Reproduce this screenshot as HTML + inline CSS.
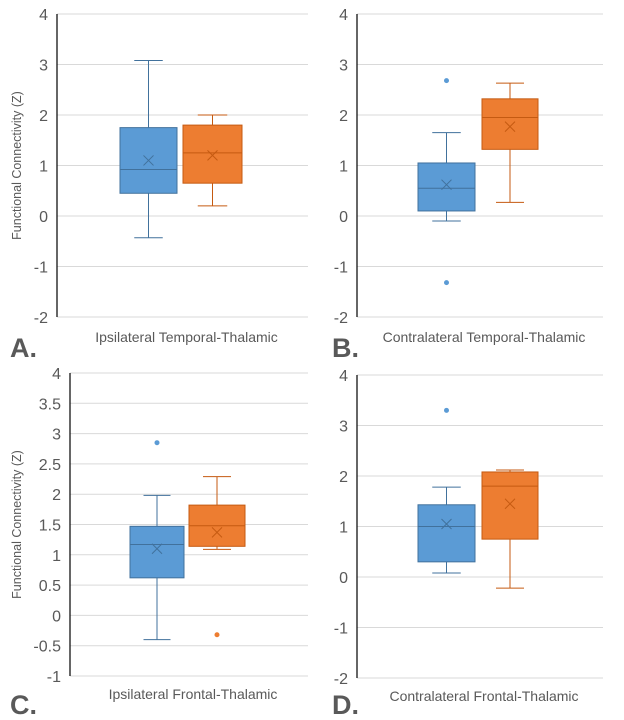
<!DOCTYPE html>
<html><head><meta charset="utf-8"><style>
body{margin:0;background:#fff;width:624px;height:720px;overflow:hidden;font-family:"Liberation Sans",sans-serif}
svg{display:block}
</style></head><body>
<svg id="c" width="624" height="720"></svg>
<script>
const categories=["Ipsilateral Temporal-Thalamic","Contralateral Temporal-Thalamic","Ipsilateral Frontal-Thalamic","Contralateral Frontal-Thalamic"];
const panelLetters=["A.","B.","C.","D."];
const ticksTop=[4,3,2,1,0,-1,-2];
const ticksC=[4,3.5,3,2.5,2,1.5,1,0.5,0,-0.5,-1];
// per panel: [min, q1, median, q3, max, mean]
const blueStats=[[-0.43,0.45,0.92,1.75,3.08,1.1],[-0.1,0.1,0.55,1.05,1.65,0.62],[-0.4,0.62,1.17,1.47,1.98,1.1],[0.08,0.3,1.0,1.43,1.78,1.05]];
const orangeStats=[[0.2,0.65,1.25,1.8,2.0,1.2],[0.27,1.32,1.95,2.32,2.63,1.77],[1.09,1.14,1.48,1.82,2.29,1.37],[-0.22,0.75,1.8,2.08,2.12,1.45]];
const blueOutliers=[[],[2.68,-1.32],[2.85],[3.3]];
const orangeOutliers=[[],[],[-0.32],[]];

const svg=document.getElementById('c');const NS='http://www.w3.org/2000/svg';
function mk(t,a,p){const e=document.createElementNS(NS,t);for(const k in a)e.setAttribute(k,a[k]);(p||svg).appendChild(e);return e;}
const panels=[
 {ax:57,right:308,top:14,bot:317,ticks:ticksTop,bx:[120,177],ox:[183,242],lab:336,lx:10,ly:357},
 {ax:357,right:603,top:14,bot:317,ticks:ticksTop,bx:[418,475],ox:[482,538],lab:336,lx:332,ly:357},
 {ax:70,right:308,top:373,bot:676,ticks:ticksC,bx:[130,184],ox:[189,245],lab:693,lx:10,ly:714},
 {ax:357,right:603,top:375,bot:678,ticks:ticksTop,bx:[418,475],ox:[482,538],lab:695,lx:332,ly:714}];
panels.forEach((p,i)=>{
 const g=mk('g',{});
 const mx=p.ticks[0],mn=p.ticks[p.ticks.length-1];
 const y=v=>p.top+(mx-v)/(mx-mn)*(p.bot-p.top);
 p.ticks.forEach(t=>{
  const l=mk('line',{x1:p.ax,x2:p.right,y1:y(t),y2:y(t),stroke:'#d9d9d9','stroke-width':1},g);
  
  const tx=mk('text',{x:p.ax-9,y:y(t)+6,'text-anchor':'end','font-size':16,fill:'#595959'},g);tx.textContent=t;
  
 });
 const a=mk('line',{x1:p.ax,x2:p.ax,y1:p.top,y2:p.bot,stroke:'#000','stroke-width':1.2},g);
 
 function box(s,xr,fill,stroke,outs,nm){
  const c=(xr[0]+xr[1])/2,w=xr[1]-xr[0];
  const b=mk('g',{},g);
  mk('line',{x1:c,x2:c,y1:y(s[0]),y2:y(s[1]),stroke:stroke},b);
  mk('line',{x1:c,x2:c,y1:y(s[3]),y2:y(s[4]),stroke:stroke},b);
  mk('line',{x1:c-w/4,x2:c+w/4,y1:y(s[0]),y2:y(s[0]),stroke:stroke},b);
  mk('line',{x1:c-w/4,x2:c+w/4,y1:y(s[4]),y2:y(s[4]),stroke:stroke},b);
  mk('rect',{x:xr[0],y:y(s[3]),width:w,height:y(s[1])-y(s[3]),fill:fill,stroke:stroke},b);
  mk('line',{x1:xr[0],x2:xr[1],y1:y(s[2]),y2:y(s[2]),stroke:stroke},b);
  const my=y(s[5]);
  mk('path',{d:`M${c-5},${my-5}L${c+5},${my+5}M${c-5},${my+5}L${c+5},${my-5}`,stroke:stroke,'stroke-width':1},b);
  outs.forEach(o=>{const d=mk('circle',{cx:c,cy:y(o),r:2.5,fill:fill},b);});
 }
 box(blueStats[i],p.bx,'#5b9bd5','#41719c',blueOutliers[i],'blue-box');
 box(orangeStats[i],p.ox,'#ed7d31','#c55a11',orangeOutliers[i],'orange-box');
 const xl=mk('text',{x:(p.ax+p.right)/2+4,y:p.lab+6,'text-anchor':'middle','font-size':14,fill:'#595959'},g);xl.textContent=categories[i];
 
 const L=mk('text',{x:p.lx,y:p.ly,'font-size':27,'font-weight':'bold',fill:'#595959'},g);L.textContent=panelLetters[i];
 
 if(i%2==0){const yt=mk('text',{x:0,y:0,transform:`translate(21,${(p.top+p.bot)/2}) rotate(-90)`,'text-anchor':'middle','font-size':12.5,fill:'#595959'},g);
  yt.textContent='Functional Connectivity (Z)';}
});
</script>
</body></html>
